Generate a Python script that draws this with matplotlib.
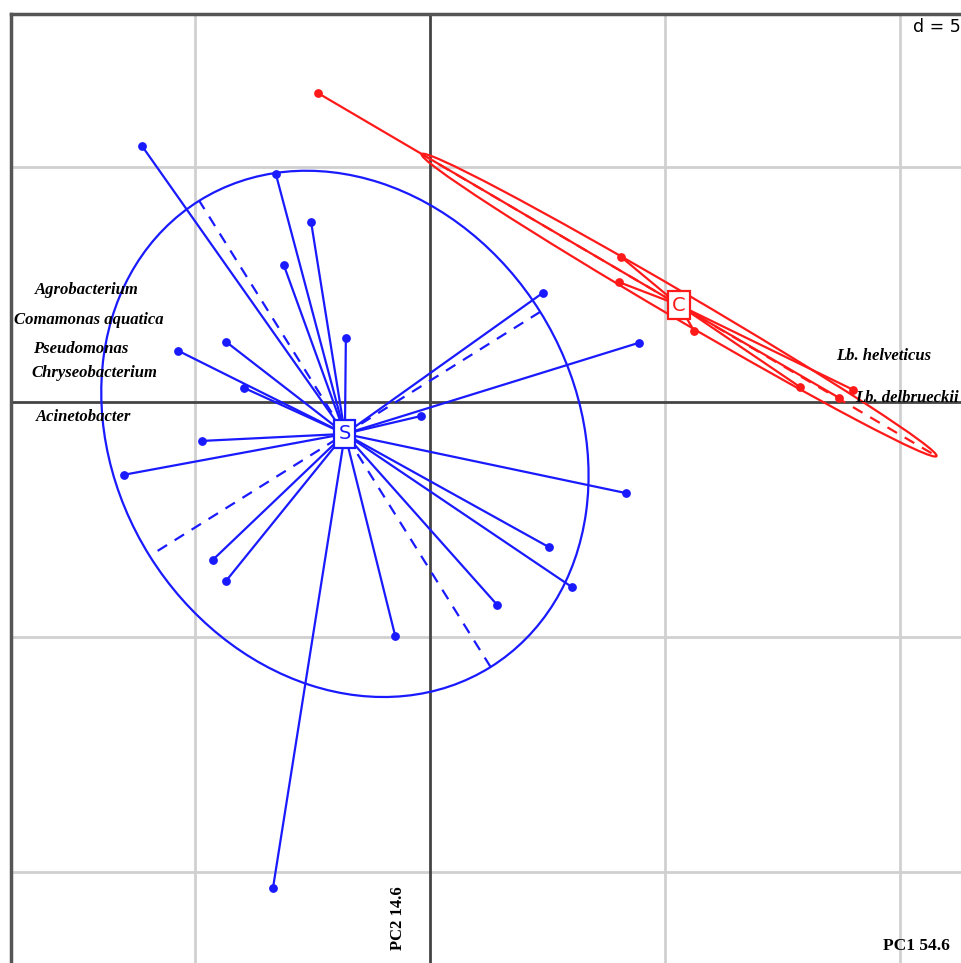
import numpy as np
import matplotlib
matplotlib.use("Agg")
import matplotlib.pyplot as plt
from matplotlib.patches import Ellipse

# PCA scores (PC1, PC2) of samples, grouped by class
s_x = [-6.13, -3.28, -2.53, -3.11, -1.79, -4.34, -5.36, -3.96, -0.19, 2.40, 4.45,
       -4.85, -6.51, 4.17, 2.53, -4.62, -4.34, 3.02, 1.43, -0.74, -3.34]
s_y = [5.45, 4.85, 3.83, 2.91, 1.36, 1.28, 1.09, 0.30, -0.30, 2.32, 1.26,
       -0.83, -1.55, -1.94, -3.09, -3.36, -3.81, -3.94, -4.32, -4.98, -10.34]
c_x = [-2.38, 4.06, 4.02, 5.62, 7.87, 8.70, 9.00]
c_y = [6.57, 3.09, 2.55, 1.51, 0.32, 0.09, 0.26]

# class centres and ellipses (semi-axis 1, semi-axis 2, angle in degrees)
s_centre = (-1.81, -0.68)
c_centre = (5.30, 2.06)
s_ell = (5.85, 4.9, 122.0)
c_ell = (6.35, 0.28, -30.4)

species_left = ["Agrobacterium", "Comamonas aquatica", "Pseudomonas",
                "Chryseobacterium", "Acinetobacter"]
species_left_pos = [(-8.40, 2.38), (-8.85, 1.74), (-8.45, 1.13), (-8.47, 0.62), (-8.38, -0.32)]
species_right = ["Lb. helveticus", "Lb. delbrueckii"]
species_right_pos = [(8.64, 0.98), (9.04, 0.09)]

BLUE = "#1a1aff"
RED = "#ff1a1a"

fig = plt.figure(figsize=(9.62, 9.63), dpi=100)
# frame starts 11 px from the left and 14 px from the top, runs off right/bottom
ax = fig.add_axes([11 / 962, 0, 951 / 962, 949 / 963])
ax.set_xlim(-8.915, 11.32)
ax.set_ylim(-11.94, 8.255)
ax.set_xticks([])
ax.set_yticks([])
for side in ["right", "bottom"]:
    ax.spines[side].set_visible(False)
for side in ["left", "top"]:
    ax.spines[side].set_color("#555555")
    ax.spines[side].set_linewidth(2.5)

# grid and axes
for g in [-5, 5, 10]:
    ax.axvline(g, color="#d0d0d0", lw=2, zorder=0)
for g in [5, -5, -10]:
    ax.axhline(g, color="#d0d0d0", lw=2, zorder=0)
ax.axvline(0, color="#444444", lw=2, zorder=1)
ax.axhline(0, color="#444444", lw=2, zorder=1)


def draw_class(xs, ys, centre, ell, color, label):
    cx, cy = centre
    a, b, ang = ell
    for x, y in zip(xs, ys):
        ax.plot([cx, x], [cy, y], color=color, lw=1.6, zorder=2)
    ax.scatter(xs, ys, s=28, color=color, zorder=4)
    ax.add_patch(Ellipse((cx, cy), 2 * a, 2 * b, angle=ang, fill=False,
                         edgecolor=color, lw=1.6, zorder=3))
    t = np.deg2rad(ang)
    ux, uy = np.cos(t), np.sin(t)
    ax.plot([cx - a * ux, cx + a * ux], [cy - a * uy, cy + a * uy],
            color=color, lw=1.6, ls=(0, (5, 4)), zorder=3)
    ax.plot([cx + b * uy, cx - b * uy], [cy - b * ux, cy + b * ux],
            color=color, lw=1.6, ls=(0, (5, 4)), zorder=3)
    ax.text(cx, cy, label, color=color, fontsize=14, ha="center", va="center",
            family="DejaVu Sans", zorder=6,
            bbox=dict(boxstyle="square,pad=0.22", fc="white", ec=color, lw=1.6))


draw_class(s_x, s_y, s_centre, s_ell, BLUE, "S")
draw_class(c_x, c_y, c_centre, c_ell, RED, "C")

for name, (x, y) in zip(species_left + species_right, species_left_pos + species_right_pos):
    ax.text(x, y, name, fontsize=12, style="italic", weight="bold",
            family="Liberation Serif", ha="left", va="center", zorder=7)

ax.text(-0.68, -10.98, "PC2 14.6", rotation=90, fontsize=12, weight="bold",
        family="Liberation Serif", ha="center", va="center")
ax.text(9.64, -11.57, "PC1 54.6", fontsize=12.5, weight="bold",
        family="Liberation Serif", ha="left", va="center")
fig.text(0.999, 0.972, "d = 5", fontsize=12.5, family="DejaVu Sans",
         ha="right", va="center")

fig.savefig("out.png", dpi=100)
